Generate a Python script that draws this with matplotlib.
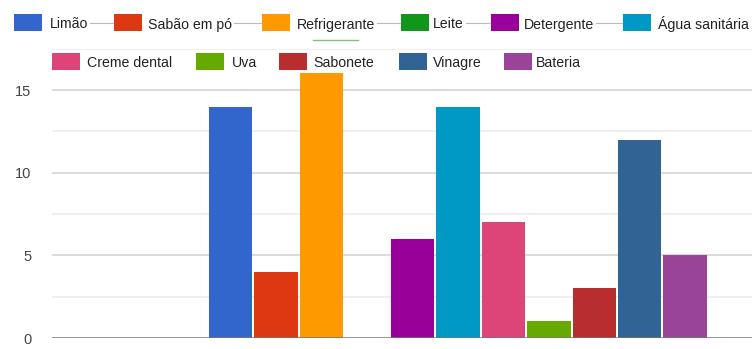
import matplotlib.pyplot as plt
from matplotlib.patches import Rectangle
from matplotlib.lines import Line2D

# produtos e quantidades
produtos = ['Limão', 'Sabão em pó', 'Refrigerante', 'Leite', 'Detergente', 'Água sanitária',
            'Creme dental', 'Uva', 'Sabonete', 'Vinagre', 'Bateria']
quantidades = [14, 4, 16, 0, 6, 14, 7, 1, 3, 12, 5]
cores = ['#3366cc', '#dc3912', '#ff9900', '#109618', '#990099', '#0099c6',
         '#dd4477', '#66aa00', '#b82e2e', '#316395', '#994499']
yticks = [0, 5, 10, 15]

W, H = 752, 349
plt.rcParams['font.family'] = ['Liberation Sans', 'DejaVu Sans']

fig = plt.figure(figsize=(W / 100, H / 100), dpi=100)


def px(x, y):
    # pixel -> coordenadas da figura
    return x / W, 1 - y / H


ax = fig.add_axes([52 / W, 11 / H, 700 / W, 289.3 / H])

largura = 0.08
n = len(produtos)
for i, (nome, q, c) in enumerate(zip(produtos, quantidades, cores)):
    ax.bar((i - (n - 1) / 2) * largura, q, width=largura * 0.955, color=c, zorder=3)

ax.set_xlim(-0.7144, 0.5176)
ax.set_ylim(0, 17.5)

# linhas de grade
for v in [2.5, 5, 7.5, 10, 12.5, 15, 17.5]:
    maior = v % 5 == 0
    ax.axhline(v, color='#d4d4d4' if maior else '#ececec', lw=1.2, zorder=1)
ax.axhline(0, color='#777777', lw=1.8, zorder=4)

for s in ax.spines.values():
    s.set_visible(False)
ax.set_xticks([])
ax.set_yticks(yticks)
ax.set_yticklabels([str(t) for t in yticks])
ax.tick_params(axis='y', length=0, pad=15, labelsize=10.5, labelcolor='#444444')

# legenda em duas linhas
linha1 = [(14, 50), (114, 148), (262, 297), (401, 433), (491, 524), (623, 658)]
linha2 = [(52, 87), (196, 232), (279, 313), (399, 433), (504, 536)]
posicoes = [(a, b, 22.5) for a, b in linha1] + [(a, b, 61) for a, b in linha2]

textos = []
for nome, c, (sx, tx, yc) in zip(produtos, cores, posicoes):
    x0, y0 = px(sx, yc + 8.5)
    fig.patches.append(Rectangle((x0, y0), 28 / W, 17 / H, transform=fig.transFigure,
                                 facecolor=c, edgecolor='none'))
    t = fig.text(*px(tx, yc + 6), nome, fontsize=10.2, color='#222222',
                 va='baseline', ha='left')
    textos.append(t)

# conectores cinza da primeira linha
fig.canvas.draw()
r = fig.canvas.get_renderer()
for k in range(len(linha1) - 1):
    bb = textos[k].get_window_extent(r)
    xa = bb.x1 + 2
    xb = linha1[k + 1][0] - 1
    fig.lines.append(Line2D([xa / W, xb / W], [1 - 22.5 / H] * 2, transform=fig.transFigure,
                            color='#bbbbbb', lw=0.8))

# traço verde sob "Refrigerante"
fig.lines.append(Line2D([313 / W, 358 / W], [1 - 40 / H] * 2, transform=fig.transFigure,
                        color='#7cc47c', lw=1.0))

fig.savefig('out.png', dpi=100)
